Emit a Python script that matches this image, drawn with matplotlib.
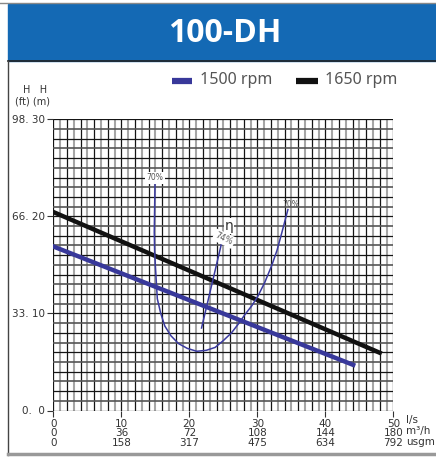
import matplotlib
matplotlib.use("Agg")
import matplotlib.pyplot as plt
from matplotlib.patches import Rectangle
from matplotlib.lines import Line2D

# datos
flow_ticks = [0, 10, 20, 30, 40, 50]
m3h_labels = ["0", "36", "72", "108", "144", "180"]
usgm_labels = ["0", "158", "317", "475", "634", "792"]
head_ticks = [0, 10, 20, 30]
head_labels = ["0.  0", "33. 10", "66. 20", "98. 30"]

q_1500 = [0, 44.1]
h_1500 = [16.9, 4.7]
q_1650 = [0, 48.0]
h_1650 = [20.45, 5.95]

# curva de rendimiento 70%
q_eff70 = [14.96, 14.85, 14.9, 15.0, 15.3, 15.8, 16.4, 17.3, 18.4, 19.7, 21.1, 22.5, 23.8, 25.0,
           26.2, 27.2, 28.2, 29.2, 30.1, 31.1, 32.1, 32.9, 33.6, 34.5]
h_eff70 = [23.4, 18.4, 16.5, 15.0, 11.5, 10.0, 8.7, 7.7, 6.9, 6.4, 6.1, 6.2, 6.5, 7.2,
           8.0, 8.9, 9.9, 10.8, 11.8, 13.2, 14.9, 16.5, 18.3, 20.7]
# linea de rendimiento 74%
q_eff74 = [21.8, 24.7]
h_eff74 = [8.5, 17.1]

W, H = 436, 462
fig = plt.figure(figsize=(W / 100, H / 100), dpi=100)

def fx(px):
    return px / W

def fy(py):
    return 1 - py / H

# cabecera azul
fig.patches.append(Rectangle((fx(8), fy(61)), 1 - fx(8), fy(4) - fy(61),
                             transform=fig.transFigure, color="#1469b4", zorder=0))
fig.add_artist(Line2D([fx(8), 1], [fy(61), fy(61)], color="#222222", lw=1.2))
fig.add_artist(Line2D([0.0, 1], [fy(3), fy(3)], color="#888888", lw=1))
fig.add_artist(Line2D([fx(8), fx(8)], [fy(61), fy(455)], color="#444444", lw=1))
fig.add_artist(Line2D([fx(8), 1], [fy(454), fy(454)], color="#999999", lw=2.5))
fig.text(fx(225), fy(34), "100-DH", color="white", fontsize=23, fontweight="bold",
         family=["Open Sans", "DejaVu Sans"], ha="center", va="center")

# leyenda
fig.add_artist(Line2D([fx(172), fx(192)], [fy(81), fy(81)], color="#38389a", lw=4.5, solid_capstyle="butt"))
fig.text(fx(200), fy(80), "1500 rpm", color="#555555", fontsize=11.5, family="Noto Sans", va="center")
fig.add_artist(Line2D([fx(296), fx(318)], [fy(81), fy(81)], color="#111111", lw=4.5, solid_capstyle="butt"))
fig.text(fx(325), fy(80), "1650 rpm", color="#555555", fontsize=11.5, family="Noto Sans", va="center")

ax = fig.add_axes([fx(53.3), fy(410.5), fx(393.3) - fx(53.3), fy(119.3) - fy(410.5)])
ax.set_xlim(0, 50)
ax.set_ylim(0, 30)

# cuadricula alterna negra / gris
for i in range(51):
    if i % 2 == 0:
        ax.axvline(i, color="#151515", lw=0.9, zorder=1)
    else:
        ax.axvline(i, color="#a6a6a6", lw=1.5, zorder=1)
for j in range(31):
    if j % 2 == 0:
        ax.axhline(j, color="#151515", lw=0.9, zorder=1)
    else:
        ax.axhline(j, color="#555555", lw=1.2, zorder=1)

ax.plot(q_1650, h_1650, color="#111111", lw=3.2, zorder=3)
ax.plot(q_1500, h_1500, color="#38389a", lw=3.2, zorder=3)
ax.plot(q_eff70, h_eff70, color="#3a3aa0", lw=1.1, zorder=4)
ax.plot(q_eff74, h_eff74, color="#3a3aa0", lw=1.1, zorder=4)

box = dict(boxstyle="square,pad=0.2", fc="white", ec="none")
ax.text(q_eff70[0], h_eff70[0] + 0.6, "70%", fontsize=5.5, color="#555555",
        ha="center", va="center", bbox=box, zorder=5)
ax.text(q_eff70[-1] + 0.4, h_eff70[-1] + 0.5, "70%", fontsize=5.5, color="#555555",
        ha="center", va="center", zorder=5)
ax.text(q_eff74[1] + 0.4, h_eff74[1] + 0.6, "74%", fontsize=6, color="#555555",
        ha="center", va="center", rotation=-25, bbox=box, zorder=5)
ax.text(q_eff74[1] + 1.2, h_eff74[1] + 1.9, "η", fontsize=10, color="#333333",
        ha="center", va="center", bbox=dict(boxstyle="square,pad=0.05", fc="white", ec="none"),
        zorder=6)

for s in ax.spines.values():
    s.set_visible(False)

ax.set_yticks(head_ticks)
ax.set_yticklabels(head_labels)
ax.set_xticks(flow_ticks)
ax.set_xticklabels([f"{a}\n{b}\n{c}" for a, b, c in zip(flow_ticks, m3h_labels, usgm_labels)],
                   linespacing=0.95)
ax.tick_params(axis="both", direction="out", length=4, width=0.8, colors="#333333",
               labelsize=7.5, labelcolor="#333333", pad=2)

fig.text(fx(47), fy(90), "H   H", fontsize=7, color="#333333", ha="right", va="center")
fig.text(fx(50), fy(101), "(ft) (m)", fontsize=7, color="#333333", ha="right", va="center")

fig.text(fx(406), fy(420), "l/s", fontsize=7.5, color="#333333", ha="left", va="center")
fig.text(fx(406), fy(431), "m³/h", fontsize=7.5, color="#333333", ha="left", va="center")
fig.text(fx(406), fy(442), "usgm", fontsize=7.5, color="#333333", ha="left", va="center")

fig.savefig("out.png", dpi=100)
